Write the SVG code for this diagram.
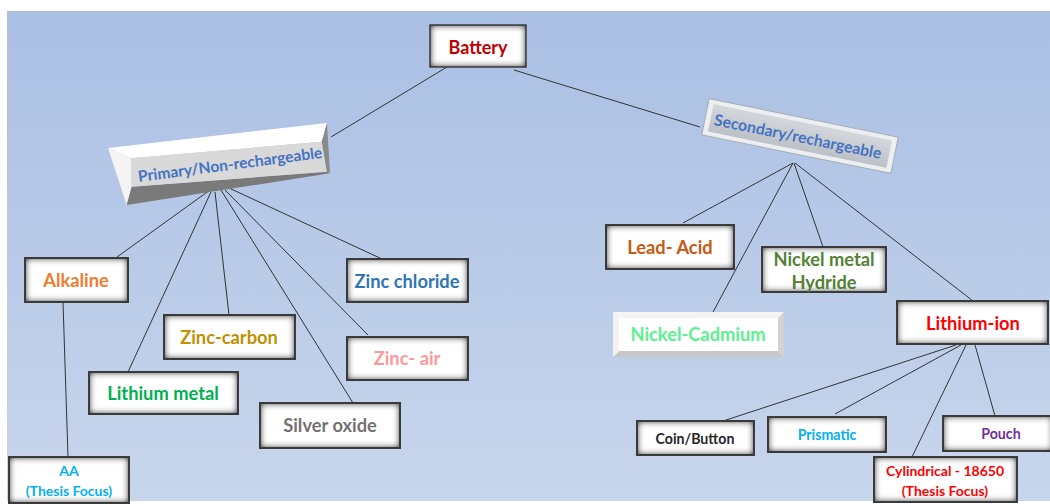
<svg xmlns="http://www.w3.org/2000/svg" width="1050" height="504" viewBox="0 0 1050 504">
<defs>
<linearGradient id="bg" x1="0" y1="0" x2="0" y2="1">
<stop offset="0" stop-color="#aabfe4"/>
<stop offset="1" stop-color="#c8d6ec"/>
</linearGradient>
<linearGradient id="sec" x1="0" y1="0" x2="0" y2="1">
<stop offset="0" stop-color="#d4d7dc"/>
<stop offset="1" stop-color="#bcc0c7"/>
</linearGradient>
<filter id="inset" x="-10%" y="-20%" width="120%" height="140%">
<feFlood flood-color="#000" flood-opacity="1"/>
<feComposite in2="SourceAlpha" operator="out"/>
<feGaussianBlur stdDeviation="3.5"/>
<feComposite in2="SourceAlpha" operator="in" result="sh"/>
<feMerge><feMergeNode in="SourceGraphic"/><feMergeNode in="sh"/><feMergeNode in="sh"/></feMerge>
</filter>
<style>
.box{fill:#fff;filter:url(#inset)}
.bd{fill:none;stroke:#3a3a3a;stroke-width:2}
.t{font-family:Lato,"Liberation Sans",sans-serif;font-weight:bold;text-anchor:middle;dominant-baseline:central}
.conn line{stroke:#333;stroke-width:1}
</style>
</defs>
<rect x="0" y="0" width="1050" height="504" fill="#fff"/>
<rect x="7" y="11" width="1043" height="490" fill="url(#bg)"/>

<g class="conn">
<line x1="447" y1="67" x2="331" y2="137"/>
<line x1="514" y1="70" x2="700" y2="127"/>
<line x1="210" y1="190" x2="117" y2="257"/>
<line x1="211" y1="192" x2="128" y2="372"/>
<line x1="215" y1="192" x2="229" y2="315"/>
<line x1="221" y1="190" x2="353" y2="403"/>
<line x1="225" y1="190" x2="368" y2="335"/>
<line x1="229" y1="188" x2="382" y2="259"/>
<line x1="63" y1="302" x2="68" y2="457"/>
<line x1="793" y1="163" x2="683" y2="223"/>
<line x1="793" y1="163" x2="713" y2="312"/>
<line x1="794" y1="163" x2="823" y2="247"/>
<line x1="795" y1="163" x2="973" y2="301"/>
<line x1="956" y1="345" x2="723" y2="421"/>
<line x1="961" y1="345" x2="835" y2="414"/>
<line x1="966" y1="345" x2="912" y2="457"/>
<line x1="975" y1="345" x2="995" y2="416"/>
</g>

<g id="battery">
<rect class="box" x="430" y="25" width="96" height="42"/>
<rect class="bd" x="430" y="25" width="96" height="42" style="stroke-width:1.5"/>
<text class="t" x="478" y="47" font-size="18" fill="#c00000">Battery</text>
</g>

<g id="primary">
<polygon points="108,148 327,123 321.7,141.7 131,158.3" fill="#ffffff"/>
<polygon points="108,148 131,158.3 131.7,186.7 126.7,205" fill="#f4f4f4"/>
<polygon points="126.7,205 131.7,186.7 326.7,171.7 330,173.3" fill="#7a7a7a"/>
<polygon points="327,123 330,173.3 326.7,171.7 321.7,141.7" fill="#8a8a8a"/>
<polygon points="131,158.3 321.7,141.7 326.7,171.7 131.7,186.7" fill="#d9d9d9"/>
<text class="t" x="230" y="164" font-size="15.6" fill="#4472c4" transform="rotate(-7.5 230 164)">Primary/Non-rechargeable</text>
</g>

<g id="secondary" transform="rotate(11.5 800 136)">
<rect x="703.5" y="117.5" width="193" height="37" fill="#eceef1" stroke="#a8acb3" stroke-width="1"/>
<rect x="709" y="122" width="182" height="28" fill="url(#sec)"/>
<text class="t" x="798" y="136" font-size="15.8" fill="#4472c4">Secondary/rechargeable</text>
</g>

<g id="alkaline">
<rect class="box" x="25" y="258" width="103" height="44"/>
<rect class="bd" x="25" y="258" width="103" height="44"/>
<text class="t" x="76" y="280" font-size="18.3" fill="#ed7d31">Alkaline</text>
</g>

<g id="zinc-carbon">
<rect class="box" x="164" y="315" width="131" height="44"/>
<rect class="bd" x="164" y="315" width="131" height="44"/>
<text class="t" x="229" y="337" font-size="18.3" fill="#bf9000">Zinc-carbon</text>
</g>

<g id="lithium-metal">
<rect class="box" x="89" y="372" width="149" height="42"/>
<rect class="bd" x="89" y="372" width="149" height="42"/>
<text class="t" x="163" y="393" font-size="18.3" fill="#00b050">Lithium metal</text>
</g>

<g id="zinc-chloride">
<rect class="box" x="347" y="259" width="121" height="43"/>
<rect class="bd" x="347" y="259" width="121" height="43"/>
<text class="t" x="407" y="281" font-size="18.3" fill="#2e75b6">Zinc chloride</text>
</g>

<g id="zinc-air">
<rect class="box" x="347" y="337" width="121" height="43"/>
<rect class="bd" x="347" y="337" width="121" height="43"/>
<text class="t" x="407" y="358" font-size="18.3" fill="#ff9999">Zinc- air</text>
</g>

<g id="silver-oxide">
<rect class="box" x="260" y="403" width="140" height="45"/>
<rect class="bd" x="260" y="403" width="140" height="45"/>
<text class="t" x="330" y="425" font-size="18.3" fill="#767171">Silver oxide</text>
</g>

<g id="aa">
<rect class="box" x="9" y="457" width="120" height="46"/>
<rect class="bd" x="9" y="457" width="120" height="46"/>
<text class="t" x="69" y="470" font-size="14" fill="#00b0f0">AA</text>
<text class="t" x="69" y="490" font-size="14" fill="#00b0f0">(Thesis Focus)</text>
</g>

<g id="lead-acid">
<rect class="box" x="606" y="225" width="128" height="44"/>
<rect class="bd" x="606" y="225" width="128" height="44"/>
<text class="t" x="670" y="247" font-size="18.3" fill="#c55a11">Lead- Acid</text>
</g>

<g id="nimh">
<rect class="box" x="762" y="247" width="124" height="45"/>
<rect class="bd" x="762" y="247" width="124" height="45"/>
<text class="t" x="824" y="259" font-size="18.3" fill="#538135">Nickel metal</text>
<text class="t" x="824" y="282" font-size="18.3" fill="#538135">Hydride</text>
</g>

<g id="nicd">
<rect x="613" y="312" width="171" height="45" fill="#e6e6e6"/>
<polygon points="613,312 784,312 778,318 619,318" fill="#f4f4f4"/>
<polygon points="613,357 784,357 778,351 619,351" fill="#c8c8c8"/>
<polygon points="784,312 784,357 778,351 778,318" fill="#d2d2d2"/>
<polygon points="613,312 613,357 619,351 619,318" fill="#f2f2f2"/>
<rect x="619" y="318" width="159" height="33" fill="#ffffff"/>
<text class="t" x="698" y="334" font-size="18.3" fill="#5cf08f">Nickel-Cadmium</text>
</g>

<g id="lithium-ion">
<rect class="box" x="897" y="301" width="151" height="43"/>
<rect class="bd" x="897" y="301" width="151" height="43"/>
<text class="t" x="973" y="323" font-size="18.3" fill="#ff0000">Lithium-ion</text>
</g>

<g id="coin">
<rect class="box" x="637" y="421" width="117" height="34"/>
<rect class="bd" x="637" y="421" width="117" height="34"/>
<text class="t" x="695" y="438" font-size="14.2" fill="#262626">Coin/Button</text>
</g>

<g id="prismatic">
<rect class="box" x="768" y="417" width="118" height="35"/>
<rect class="bd" x="768" y="417" width="118" height="35"/>
<text class="t" x="827" y="434" font-size="14.2" fill="#00b0f0">Prismatic</text>
</g>

<g id="pouch">
<rect class="box" x="943" y="416" width="110" height="35"/>
<rect class="bd" x="943" y="416" width="110" height="35"/>
<text class="t" x="1001" y="433" font-size="14.2" fill="#7030a0">Pouch</text>
</g>

<g id="cylindrical">
<rect class="box" x="874" y="457" width="143" height="45"/>
<rect class="bd" x="874" y="457" width="143" height="45"/>
<text class="t" x="945" y="470" font-size="14" fill="#ff0000">Cylindrical - 18650</text>
<text class="t" x="945" y="490" font-size="14" fill="#ff0000">(Thesis Focus)</text>
</g>
</svg>
